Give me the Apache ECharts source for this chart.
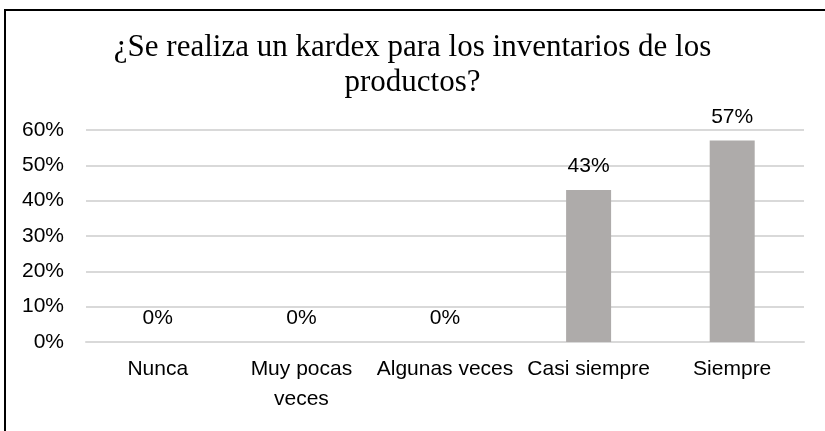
<!DOCTYPE html>
<html>
<head>
<meta charset="utf-8">
<script src="https://cdn.jsdelivr.net/npm/echarts@6/dist/echarts.min.js"></script>
<style>
  html, body { margin: 0; padding: 0; background: #fff; }
  #frame { position: absolute; left: 4px; top: 9px; width: 821px; height: 422px;
           border-left: 2px solid #000; border-top: 2px solid #000; box-sizing: border-box; }
  #main { position: absolute; left: 0; top: 0; width: 825px; height: 431px; }
</style>
</head>
<body>
<div id="frame"></div>
<div id="main"></div>
<script>
var titleText = '¿Se realiza un kardex para los inventarios de los\nproductos?';
var categories = ['Nunca', 'Muy pocas\nveces', 'Algunas veces', 'Casi siempre', 'Siempre'];
var percentages = [0, 0, 0, 43, 57];
var yTicks = [0, 10, 20, 30, 40, 50, 60];

var chart = echarts.init(document.getElementById('main'));

chart.setOption({
	animation: false,
	title: {
		text: titleText,
		left: 'center',
		top: 30,
		padding: 0,
		textStyle: {
			fontFamily: 'Liberation Serif',
			fontWeight: 'normal',
			fontSize: 31,
			lineHeight: 35,
			color: '#000'
		}
	},
	grid: {
		left: 86,
		right: 21,
		top: 130,
		bottom: 89
	},
	xAxis: [{
		type: 'category',
		data: categories,
		axisLine: { lineStyle: { color: '#d9d9d9', width: 2 } },
		axisTick: { show: false },
		axisLabel: {
			interval: 0,
			margin: 12,
			fontFamily: 'Liberation Sans',
			fontSize: 21,
			lineHeight: 30,
			color: '#000'
		}
	}],
	yAxis: [{
		type: 'value',
		min: yTicks[0],
		max: yTicks[yTicks.length - 1],
		interval: 10,
		axisLine: { show: false },
		axisTick: { show: false },
		splitLine: { lineStyle: { color: '#d9d9d9', width: 2 } },
		axisLabel: {
			margin: 22,
			fontFamily: 'Liberation Sans',
			fontSize: 21,
			color: '#000',
			formatter: '{value}%'
		}
	}],
	series: [{
		name: 'Porcentaje',
		type: 'bar',
		data: percentages,
		barWidth: 45,
		itemStyle: { color: '#aeabaa' },
		label: {
			show: true,
			position: 'top',
			distance: 13,
			fontFamily: 'Liberation Sans',
			fontSize: 21,
			color: '#000',
			formatter: '{c}%'
		}
	}]
});
</script>
</body>
</html>
